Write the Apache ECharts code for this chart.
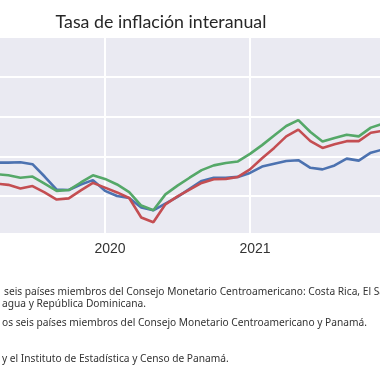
<!DOCTYPE html>
<html>
<head>
<meta charset="utf-8">
<script src="https://cdn.jsdelivr.net/npm/echarts@6/dist/echarts.min.js"></script>
<style>
html,body{margin:0;padding:0;background:#fff;}
#chart{width:380px;height:380px;}
</style>
</head>
<body>
<div id="chart"></div>
<script>
// Months shown (Apr 2019 .. Dec 2021)
const months = ['2019-04','2019-05','2019-06','2019-07','2019-08','2019-09','2019-10','2019-11','2019-12',
  '2020-01','2020-02','2020-03','2020-04','2020-05','2020-06','2020-07','2020-08','2020-09','2020-10','2020-11','2020-12',
  '2021-01','2021-02','2021-03','2021-04','2021-05','2021-06','2021-07','2021-08','2021-09','2021-10','2021-11','2021-12'];
const serieAzul  = [1.84,1.84,1.85,1.80,1.49,1.16,1.15,1.29,1.40,1.13,1.00,0.95,0.71,0.64,0.81,0.98,1.18,1.38,1.46,1.46,1.48,1.58,1.74,1.81,1.88,1.90,1.71,1.67,1.77,1.94,1.89,2.09,2.17];
const serieVerde = [1.55,1.52,1.46,1.49,1.31,1.13,1.15,1.34,1.52,1.43,1.29,1.10,0.76,0.64,1.04,1.26,1.46,1.65,1.77,1.83,1.87,2.06,2.28,2.52,2.76,2.91,2.61,2.37,2.46,2.54,2.50,2.72,2.82];
const serieRoja  = [1.31,1.28,1.19,1.25,1.09,0.91,0.94,1.14,1.33,1.21,1.09,0.95,0.46,0.34,0.79,0.99,1.16,1.33,1.42,1.43,1.48,1.67,1.95,2.21,2.50,2.67,2.38,2.21,2.30,2.38,2.38,2.59,2.64];
const yearTicks = {12:'2020', 24:'2021'};
const titleText = 'Tasa de inflación interanual';
const notes = [
  'seis países miembros del Consejo Monetario Centroamericano: Costa Rica, El Salvador,',
  'agua y República Dominicana.',
  'os seis países miembros del Consejo Monetario Centroamericano y Panamá.',
  'y el Instituto de Estadística y Censo de Panamá.'
];

function monthIndex(s){ const p = s.split('-'); return (parseInt(p[0])-2019)*12 + parseInt(p[1]) - 1; }
function pairs(arr){ return months.map((m,i)=>[monthIndex(m), arr[i]]); }

const chart = echarts.init(document.getElementById('chart'), null, {renderer:'canvas'});
const lineW = 2.6;
chart.setOption({
  animation:false,
  grid:{left:-40, right:-15, top:37, height:198.75, show:false, containLabel:false, outerBoundsMode:'none'},
  xAxis:{type:'value', min:0, max:36, interval:12,
    axisLine:{show:false}, axisTick:{show:false},
    splitLine:{show:true, lineStyle:{color:'#ffffff', width:2}},
    axisLabel:{show:true, color:'#333', fontSize:14, fontFamily:'Liberation Sans', margin:6, padding:[0,0,0,10],
      formatter:v=>yearTicks[v]||''}
  },
  yAxis:{type:'value', min:0, max:5, interval:1,
    axisLine:{show:false}, axisTick:{show:false}, axisLabel:{show:false},
    splitLine:{show:true, lineStyle:{color:'#ffffff', width:2}}
  },
  graphic:[
    {type:'rect', shape:{x:0,y:37,width:380,height:196}, style:{fill:'#EAEAF2'}, z:-10, silent:true},
    {type:'text', x:161, y:22, style:{text:titleText, fill:'#262626', font:'17.8px Lato', align:'center', verticalAlign:'middle'}},
    {type:'text', x:4, y:292, style:{text:notes[0], fill:'#333', font:'10.2px "Noto Sans"', verticalAlign:'middle'}},
    {type:'text', x:2, y:304, style:{text:notes[1], fill:'#333', font:'10.2px "Noto Sans"', verticalAlign:'middle'}},
    {type:'text', x:2, y:323, style:{text:notes[2], fill:'#333', font:'10.2px "Noto Sans"', verticalAlign:'middle'}},
    {type:'text', x:2, y:359, style:{text:notes[3], fill:'#333', font:'10.2px "Noto Sans"', verticalAlign:'middle'}}
  ],
  series:[
    {name:'Azul', type:'line', data:pairs(serieAzul), symbol:'none', lineStyle:{color:'#4C72B0', width:lineW}, itemStyle:{color:'#4C72B0'}, z:3},
    {name:'Verde', type:'line', data:pairs(serieVerde), symbol:'none', lineStyle:{color:'#55A868', width:lineW}, itemStyle:{color:'#55A868'}, z:4},
    {name:'Roja', type:'line', data:pairs(serieRoja), symbol:'none', lineStyle:{color:'#C44E52', width:lineW}, itemStyle:{color:'#C44E52'}, z:5}
  ]
});
</script>
</body>
</html>
